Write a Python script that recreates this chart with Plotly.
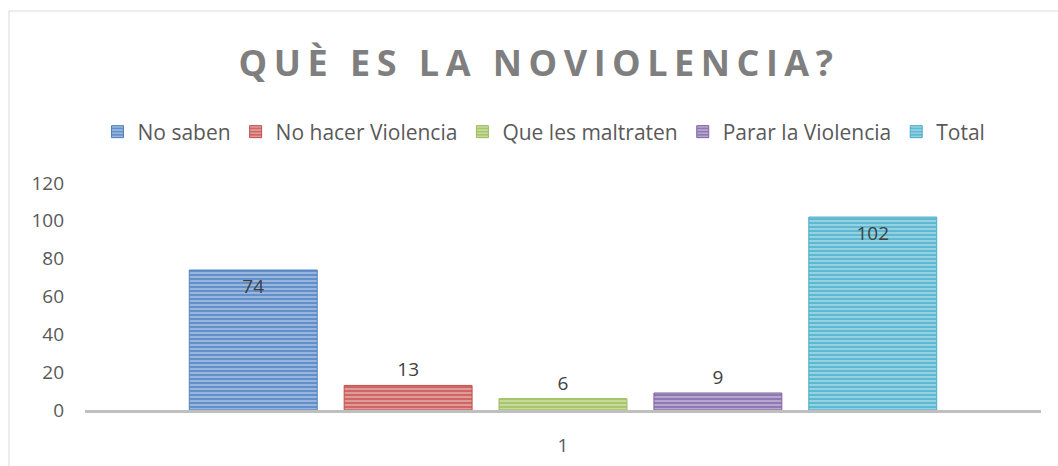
import plotly.graph_objects as go

categories = ["1"]
series_names = ["No saben", "No hacer Violencia", "Que les maltraten", "Parar la Violencia", "Total"]
series_values = [[74], [13], [6], [9], [102]]
series_colors = ["#4F81BD", "#C0504D", "#9BBB59", "#8064A2", "#4BACC6"]
fill_colors = ["#6390CA", "#CD6664", "#A9C66C", "#9079B2", "#5DB8D1"]
stripe_colors = ["#D0DDF0", "#F0D0CF", "#E4EDD0", "#DDD4E8", "#CDE9F1"]
y_ticks = [0, 20, 40, 60, 80, 100, 120]

W, H = 1058, 466
L, R, T, B = 85, 17, 183, 56

fig = go.Figure()

for name, vals, col, fill, stripe in zip(series_names, series_values, series_colors, fill_colors, stripe_colors):
    # short bars can't hold their label, so it sits on top like in Excel
    pos = ["inside" if v > 20 else "outside" for v in vals]
    fig.add_trace(
        go.Bar(
            x=categories,
            y=vals,
            name=name,
            text=[str(v) for v in vals],
            textposition=pos,
            insidetextanchor="end",
            textangle=0,
            textfont={"size": 19, "color": "#404040"},
            cliponaxis=False,
            marker={
                "color": fill,
                "line": {"color": col, "width": 1},
                "pattern": {"shape": "-", "fgcolor": stripe, "size": 4, "solidity": 0.5},
            },
        )
    )

pw = W - L - R
ph = H - T - B

fig.update_layout(
    width=W,
    height=H,
    margin={"l": L, "r": R, "t": T, "b": B, "autoexpand": False},
    paper_bgcolor="white",
    plot_bgcolor="white",
    font={"family": "Open Sans, Liberation Sans, sans-serif", "color": "#595959"},
    barmode="group",
    bargap=0.19,
    bargroupgap=0.174,
    uniformtext={"minsize": 19, "mode": "show"},
    title={
        "text": '<span style="letter-spacing:6.5px"><b>QUÈ ES LA NOVIOLENCIA?</b></span>',
        "x": 0.5 + 10 / W,
        "xanchor": "center",
        "xref": "container",
        "y": 1 - 63 / H,
        "yanchor": "middle",
        "yref": "container",
        "font": {"size": 36, "color": "#7F7F7F", "family": "Open Sans, Liberation Sans, sans-serif"},
    },
    legend={
        "orientation": "h",
        "xref": "container",
        "x": 544 / W,
        "xanchor": "center",
        "yref": "container",
        "y": 1 - 132 / H,
        "yanchor": "middle",
        "font": {"size": 21, "color": "#595959"},
        "itemwidth": 30,
        "tracegroupgap": 0,
    },
    xaxis={
        "showline": True,
        "linecolor": "#BFBFBF",
        "linewidth": 2.5,
        "ticks": "",
        "ticklabelstandoff": 16,
        "tickfont": {"size": 19, "color": "#595959"},
        "showgrid": False,
        "automargin": False,
    },
    yaxis={
        "range": [0, 120],
        "tickvals": y_ticks,
        "showgrid": False,
        "zeroline": False,
        "showline": False,
        "ticks": "",
        "ticklabelstandoff": 20,
        "tickfont": {"size": 19, "color": "#595959"},
        "automargin": False,
    },
    shapes=[
        {
            "type": "rect",
            "xref": "paper",
            "yref": "paper",
            "x0": (9 - L) / pw,
            "x1": (W + 20 - L) / pw,
            "y0": -(B + 20) / ph,
            "y1": (H - B - 11) / ph,
            "line": {"color": "#D9D9D9", "width": 1},
            "fillcolor": "rgba(0,0,0,0)",
            "layer": "below",
        }
    ],
)

fig.write_html(
    "out.html",
    config={"displayModeBar": False},
    post_script="document.body.style.margin='0';",
)
